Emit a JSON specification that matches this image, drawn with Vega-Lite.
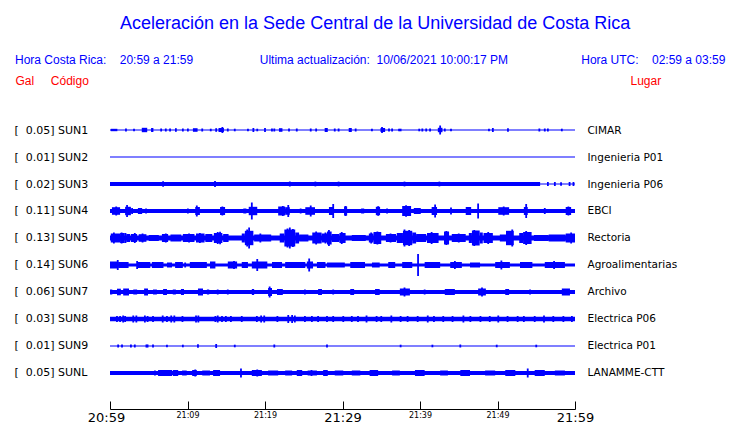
{
"$schema":"https://vega.github.io/schema/vega-lite/v6.json",
"width":465,"height":293,
"autosize":{"type":"none"},
"padding":{"left":110,"top":116,"right":165,"bottom":14},
"background":"#ffffff",
"title":{
"text":"\u200b\u00a0\u00a0\u00a0\u00a0\u00a0\u00a0\u00a0\u00a0\u00a0\u00a0\u00a0\u00a0\u00a0\u00a0\u00a0\u00a0\u00a0\u00a0\u00a0\u00a0\u00a0Aceleración en la Sede Central de la Universidad de Costa Rica",
"subtitle":"Hora Costa Rica:\u00a0\u00a0\u00a0\u00a020:59 a 21:59\u00a0\u00a0\u00a0\u00a0\u00a0\u00a0\u00a0\u00a0\u00a0\u00a0\u00a0\u00a0\u00a0\u00a0\u00a0\u00a0\u00a0\u00a0\u00a0\u00a0Ultima actualización:\u00a0\u00a010/06/2021 10:00:17 PM\u00a0\u00a0\u00a0\u00a0\u00a0\u00a0\u00a0\u00a0\u00a0\u00a0\u00a0\u00a0\u00a0\u00a0\u00a0\u00a0\u00a0\u00a0\u00a0\u00a0\u00a0\u00a0Hora UTC:\u00a0\u00a0\u00a0\u00a002:59 a 03:59",
"anchor":"start","frame":"group","dx":-95,"offset":8,
"font":"Liberation Sans","fontSize":18,"fontWeight":"normal","color":"#0000FF",
"subtitleFont":"Liberation Sans","subtitleFontSize":12,"subtitleColor":"#0000FF","subtitlePadding":22
},
"datasets":{
"est":[
{"s":"SUN1","gal":0.05,"lugar":"CIMAR"},
{"s":"SUN2","gal":0.01,"lugar":"Ingenieria P01"},
{"s":"SUN3","gal":0.02,"lugar":"Ingenieria P06"},
{"s":"SUN4","gal":0.11,"lugar":"EBCI"},
{"s":"SUN5","gal":0.13,"lugar":"Rectoria"},
{"s":"SUN6","gal":0.14,"lugar":"Agroalimentarias"},
{"s":"SUN7","gal":0.06,"lugar":"Archivo"},
{"s":"SUN8","gal":0.03,"lugar":"Electrica P06"},
{"s":"SUN9","gal":0.01,"lugar":"Electrica P01"},
{"s":"SUNL","gal":0.05,"lugar":"LANAMME-CTT"}
],
"blk":[
{"s":"SUN3","t0":0,"t1":55.5,"a":0.2},
{"s":"SUN4","t0":0,"t1":60,"a":0.2},
{"s":"SUN5","t0":0,"t1":60,"a":0.25},
{"s":"SUN6","t0":0,"t1":60,"a":0.15},
{"s":"SUN7","t0":0,"t1":60,"a":0.2},
{"s":"SUN8","t0":0,"t1":60,"a":0.22},
{"s":"SUNL","t0":0,"t1":60,"a":0.2},
{"s":"SUN1","t0":0.1,"t1":0.95,"a":0.12},{"s":"SUN1","t0":4.1,"t1":4.8,"a":0.22},{"s":"SUN1","t0":5.3,"t1":5.6,"a":0.2},{"s":"SUN1","t0":10.7,"t1":11.3,"a":0.18},{"s":"SUN1","t0":14.0,"t1":14.7,"a":0.2},{"s":"SUN1","t0":21.8,"t1":22.25,"a":0.18},{"s":"SUN1","t0":27.7,"t1":28.1,"a":0.2},{"s":"SUN1","t0":30.8,"t1":31.2,"a":0.2},{"s":"SUN1","t0":34.9,"t1":35.5,"a":0.2},{"s":"SUN1","t0":42.3,"t1":42.9,"a":0.22},
{"s":"SUN3","t0":44.3,"t1":44.8,"a":0.16},{"s":"SUN3","t0":47.8,"t1":48.2,"a":0.12},{"s":"SUN3","t0":51.1,"t1":51.4,"a":0.12},{"s":"SUN3","t0":53.8,"t1":54.2,"a":0.12},
{"s":"SUN4","t0":0.25,"t1":1.3,"a":0.38},{"s":"SUN4","t0":1.95,"t1":2.7,"a":0.42},{"s":"SUN4","t0":3.6,"t1":4.15,"a":0.3},{"s":"SUN4","t0":11.0,"t1":11.6,"a":0.4},{"s":"SUN4","t0":14.2,"t1":14.85,"a":0.4},{"s":"SUN4","t0":17.2,"t1":17.6,"a":0.25},{"s":"SUN4","t0":17.9,"t1":19.0,"a":0.42},{"s":"SUN4","t0":21.7,"t1":22.6,"a":0.45},{"s":"SUN4","t0":22.6,"t1":23.2,"a":0.38},{"s":"SUN4","t0":25.2,"t1":26.45,"a":0.38},{"s":"SUN4","t0":28.25,"t1":28.9,"a":0.4},{"s":"SUN4","t0":30.2,"t1":30.6,"a":0.45},{"s":"SUN4","t0":32.4,"t1":32.8,"a":0.25},{"s":"SUN4","t0":34.3,"t1":34.85,"a":0.42},{"s":"SUN4","t0":37.7,"t1":38.85,"a":0.5},{"s":"SUN4","t0":39.2,"t1":40.1,"a":0.3},{"s":"SUN4","t0":41.5,"t1":42.2,"a":0.4},{"s":"SUN4","t0":45.9,"t1":46.6,"a":0.4},{"s":"SUN4","t0":50.1,"t1":51.5,"a":0.38},{"s":"SUN4","t0":53.4,"t1":53.9,"a":0.4},{"s":"SUN4","t0":58.8,"t1":59.5,"a":0.4},
{"s":"SUN5","t0":0.1,"t1":1.3,"a":0.45},{"s":"SUN5","t0":1.3,"t1":1.9,"a":0.5},{"s":"SUN5","t0":2.1,"t1":2.6,"a":0.4},{"s":"SUN5","t0":2.7,"t1":3.5,"a":0.4},{"s":"SUN5","t0":3.7,"t1":4.7,"a":0.38},{"s":"SUN5","t0":5.0,"t1":6.3,"a":0.3},{"s":"SUN5","t0":6.7,"t1":7.5,"a":0.4},{"s":"SUN5","t0":7.8,"t1":9.2,"a":0.35},{"s":"SUN5","t0":9.4,"t1":10.9,"a":0.4},{"s":"SUN5","t0":11.1,"t1":12.2,"a":0.45},{"s":"SUN5","t0":12.3,"t1":13.2,"a":0.4},{"s":"SUN5","t0":13.4,"t1":14.5,"a":0.5},{"s":"SUN5","t0":14.6,"t1":15.3,"a":0.4},{"s":"SUN5","t0":17.0,"t1":17.4,"a":0.45},{"s":"SUN5","t0":17.4,"t1":18.5,"a":0.72},{"s":"SUN5","t0":18.6,"t1":20.8,"a":0.35},{"s":"SUN5","t0":21.9,"t1":22.5,"a":0.45},{"s":"SUN5","t0":22.5,"t1":23.9,"a":0.85},{"s":"SUN5","t0":23.9,"t1":24.4,"a":0.55},{"s":"SUN5","t0":24.4,"t1":25.6,"a":0.35},{"s":"SUN5","t0":26.1,"t1":27.3,"a":0.55},{"s":"SUN5","t0":27.3,"t1":28.0,"a":0.45},{"s":"SUN5","t0":28.0,"t1":28.6,"a":0.65},{"s":"SUN5","t0":28.6,"t1":29.6,"a":0.4},{"s":"SUN5","t0":29.6,"t1":30.4,"a":0.5},{"s":"SUN5","t0":31.2,"t1":33.0,"a":0.3},{"s":"SUN5","t0":33.4,"t1":34.0,"a":0.45},{"s":"SUN5","t0":34.0,"t1":35.0,"a":0.6},{"s":"SUN5","t0":35.6,"t1":36.9,"a":0.4},{"s":"SUN5","t0":37.0,"t1":37.8,"a":0.5},{"s":"SUN5","t0":37.8,"t1":39.0,"a":0.72},{"s":"SUN5","t0":39.0,"t1":39.5,"a":0.55},{"s":"SUN5","t0":39.5,"t1":40.8,"a":0.4},{"s":"SUN5","t0":40.9,"t1":42.4,"a":0.5},{"s":"SUN5","t0":43.1,"t1":43.75,"a":0.65},{"s":"SUN5","t0":44.1,"t1":45.9,"a":0.4},{"s":"SUN5","t0":46.3,"t1":46.7,"a":0.5},{"s":"SUN5","t0":46.7,"t1":47.7,"a":0.75},{"s":"SUN5","t0":47.7,"t1":48.1,"a":0.55},{"s":"SUN5","t0":48.2,"t1":49.4,"a":0.5},{"s":"SUN5","t0":50.3,"t1":51.1,"a":0.35},{"s":"SUN5","t0":51.1,"t1":52.1,"a":0.72},{"s":"SUN5","t0":52.8,"t1":53.3,"a":0.5},{"s":"SUN5","t0":53.3,"t1":54.4,"a":0.6},{"s":"SUN5","t0":54.7,"t1":56.6,"a":0.3},{"s":"SUN5","t0":56.6,"t1":58.8,"a":0.35},{"s":"SUN5","t0":58.8,"t1":60,"a":0.45},
{"s":"SUN6","t0":0,"t1":1.05,"a":0.35},{"s":"SUN6","t0":1.05,"t1":2.4,"a":0.3},{"s":"SUN6","t0":3.6,"t1":5.2,"a":0.3},{"s":"SUN6","t0":5.4,"t1":6.9,"a":0.3},{"s":"SUN6","t0":7.35,"t1":8.0,"a":0.25},{"s":"SUN6","t0":8.4,"t1":9.4,"a":0.3},{"s":"SUN6","t0":10.3,"t1":12.5,"a":0.3},{"s":"SUN6","t0":12.9,"t1":13.6,"a":0.35},{"s":"SUN6","t0":15.2,"t1":16.4,"a":0.35},{"s":"SUN6","t0":17.0,"t1":17.8,"a":0.3},{"s":"SUN6","t0":18.3,"t1":20.3,"a":0.35},{"s":"SUN6","t0":20.9,"t1":22.2,"a":0.3},{"s":"SUN6","t0":22.6,"t1":25.2,"a":0.3},{"s":"SUN6","t0":25.4,"t1":26.2,"a":0.35},{"s":"SUN6","t0":26.7,"t1":27.8,"a":0.3},{"s":"SUN6","t0":28.0,"t1":30.3,"a":0.25},{"s":"SUN6","t0":31.0,"t1":32.9,"a":0.3},{"s":"SUN6","t0":33.8,"t1":34.8,"a":0.25},{"s":"SUN6","t0":35.9,"t1":36.8,"a":0.3},{"s":"SUN6","t0":37.7,"t1":39.0,"a":0.3},{"s":"SUN6","t0":40.6,"t1":42.6,"a":0.3},{"s":"SUN6","t0":43.9,"t1":45.4,"a":0.3},{"s":"SUN6","t0":46.45,"t1":47.75,"a":0.25},{"s":"SUN6","t0":49.7,"t1":51.6,"a":0.3},{"s":"SUN6","t0":52.9,"t1":54.5,"a":0.3},{"s":"SUN6","t0":56.1,"t1":58.7,"a":0.3},
{"s":"SUN7","t0":0,"t1":0.3,"a":0.25},{"s":"SUN7","t0":0.9,"t1":1.4,"a":0.33},{"s":"SUN7","t0":1.7,"t1":2.45,"a":0.35},{"s":"SUN7","t0":3.0,"t1":3.5,"a":0.25},{"s":"SUN7","t0":4.4,"t1":4.9,"a":0.35},{"s":"SUN7","t0":5.55,"t1":6.05,"a":0.25},{"s":"SUN7","t0":6.85,"t1":7.35,"a":0.3},{"s":"SUN7","t0":8.1,"t1":8.5,"a":0.25},{"s":"SUN7","t0":9.15,"t1":9.55,"a":0.3},{"s":"SUN7","t0":11.35,"t1":12.0,"a":0.35},{"s":"SUN7","t0":12.5,"t1":12.8,"a":0.25},{"s":"SUN7","t0":18.3,"t1":18.6,"a":0.3},{"s":"SUN7","t0":20.4,"t1":20.9,"a":0.4},{"s":"SUN7","t0":21.55,"t1":22.3,"a":0.3},{"s":"SUN7","t0":26.85,"t1":27.35,"a":0.3},{"s":"SUN7","t0":31.0,"t1":31.5,"a":0.3},{"s":"SUN7","t0":34.2,"t1":34.8,"a":0.3},{"s":"SUN7","t0":37.4,"t1":38.7,"a":0.35},{"s":"SUN7","t0":43.2,"t1":44.5,"a":0.3},{"s":"SUN7","t0":47.5,"t1":48.5,"a":0.35},{"s":"SUN7","t0":51.0,"t1":51.5,"a":0.3},{"s":"SUN7","t0":58.3,"t1":59.35,"a":0.35},
{"s":"SUNL","t0":6.2,"t1":8.0,"a":0.3},{"s":"SUNL","t0":8.1,"t1":8.8,"a":0.3},{"s":"SUNL","t0":9.3,"t1":9.9,"a":0.25},{"s":"SUNL","t0":10.6,"t1":11.2,"a":0.3},{"s":"SUNL","t0":11.9,"t1":12.9,"a":0.25},{"s":"SUNL","t0":13.3,"t1":14.2,"a":0.3},{"s":"SUNL","t0":18.3,"t1":19.6,"a":0.3},{"s":"SUNL","t0":20.4,"t1":21.7,"a":0.25},{"s":"SUNL","t0":22.6,"t1":23.5,"a":0.25},{"s":"SUNL","t0":24.1,"t1":24.8,"a":0.3},{"s":"SUNL","t0":25.5,"t1":26.7,"a":0.25},{"s":"SUNL","t0":27.5,"t1":28.1,"a":0.3},{"s":"SUNL","t0":29.0,"t1":30.1,"a":0.25},{"s":"SUNL","t0":31.2,"t1":32.3,"a":0.25},{"s":"SUNL","t0":33.5,"t1":34.6,"a":0.3},{"s":"SUNL","t0":36.4,"t1":37.4,"a":0.25},{"s":"SUNL","t0":39.35,"t1":40.6,"a":0.3},{"s":"SUNL","t0":42.6,"t1":43.6,"a":0.25},{"s":"SUNL","t0":45.2,"t1":46.45,"a":0.3},{"s":"SUNL","t0":48.4,"t1":49.7,"a":0.25},{"s":"SUNL","t0":51.0,"t1":52.3,"a":0.3},{"s":"SUNL","t0":54.8,"t1":56.1,"a":0.3},{"s":"SUNL","t0":57.4,"t1":58.7,"a":0.25}
],
"spk":[
{"s":"SUN1","t":2.06,"a":0.15},{"s":"SUN1","t":3.1,"a":0.13},{"s":"SUN1","t":6.6,"a":0.15},{"s":"SUN1","t":7.2,"a":0.15},{"s":"SUN1","t":7.75,"a":0.15},{"s":"SUN1","t":8.5,"a":0.18},{"s":"SUN1","t":9.4,"a":0.15},{"s":"SUN1","t":10.05,"a":0.15},{"s":"SUN1","t":11.9,"a":0.15},{"s":"SUN1","t":13.0,"a":0.13},{"s":"SUN1","t":13.7,"a":0.18},{"s":"SUN1","t":14.5,"a":0.3},{"s":"SUN1","t":15.2,"a":0.15},{"s":"SUN1","t":16.1,"a":0.13},{"s":"SUN1","t":17.8,"a":0.13},{"s":"SUN1","t":18.5,"a":0.2},{"s":"SUN1","t":19.0,"a":0.13},{"s":"SUN1","t":20.0,"a":0.2},{"s":"SUN1","t":20.9,"a":0.15},{"s":"SUN1","t":21.2,"a":0.15},{"s":"SUN1","t":23.1,"a":0.15},{"s":"SUN1","t":24.1,"a":0.15},{"s":"SUN1","t":25.9,"a":0.15},{"s":"SUN1","t":26.6,"a":0.15},{"s":"SUN1","t":29.0,"a":0.15},{"s":"SUN1","t":29.5,"a":0.15},{"s":"SUN1","t":31.7,"a":0.15},{"s":"SUN1","t":33.8,"a":0.13},{"s":"SUN1","t":35.1,"a":0.3},{"s":"SUN1","t":36.0,"a":0.15},{"s":"SUN1","t":36.4,"a":0.15},{"s":"SUN1","t":37.3,"a":0.13},{"s":"SUN1","t":37.5,"a":0.13},{"s":"SUN1","t":39.9,"a":0.13},{"s":"SUN1","t":40.3,"a":0.15},{"s":"SUN1","t":40.8,"a":0.15},{"s":"SUN1","t":41.3,"a":0.15},{"s":"SUN1","t":42.6,"a":0.45},{"s":"SUN1","t":43.2,"a":0.15},{"s":"SUN1","t":44.0,"a":0.13},{"s":"SUN1","t":48.9,"a":0.13},{"s":"SUN1","t":49.4,"a":0.2},{"s":"SUN1","t":51.35,"a":0.18},{"s":"SUN1","t":55.4,"a":0.15},{"s":"SUN1","t":56.1,"a":0.15},{"s":"SUN1","t":56.5,"a":0.15},{"s":"SUN1","t":58.3,"a":0.13},
{"s":"SUN3","t":6.85,"a":0.28},{"s":"SUN3","t":13.55,"a":0.3},{"s":"SUN3","t":23.2,"a":0.25},{"s":"SUN3","t":26.5,"a":0.24},{"s":"SUN3","t":29.5,"a":0.24},{"s":"SUN3","t":38.0,"a":0.24},{"s":"SUN3","t":42.5,"a":0.24},{"s":"SUN3","t":56.5,"a":0.2},{"s":"SUN3","t":57.4,"a":0.2},{"s":"SUN3","t":58.2,"a":0.18},{"s":"SUN3","t":59.3,"a":0.2},{"s":"SUN3","t":59.8,"a":0.2},
{"s":"SUN4","t":0.8,"a":0.45},{"s":"SUN4","t":2.2,"a":0.6},{"s":"SUN4","t":2.85,"a":0.3},{"s":"SUN4","t":4.65,"a":0.25},{"s":"SUN4","t":10.05,"a":0.25},{"s":"SUN4","t":11.2,"a":0.55},{"s":"SUN4","t":14.5,"a":0.45},{"s":"SUN4","t":18.3,"a":0.85},{"s":"SUN4","t":22.3,"a":0.5},{"s":"SUN4","t":23.0,"a":0.6},{"s":"SUN4","t":24.6,"a":0.25},{"s":"SUN4","t":25.9,"a":0.55},{"s":"SUN4","t":28.8,"a":0.7},{"s":"SUN4","t":30.4,"a":0.5},{"s":"SUN4","t":34.6,"a":0.48},{"s":"SUN4","t":35.75,"a":0.25},{"s":"SUN4","t":38.2,"a":0.58},{"s":"SUN4","t":41.95,"a":0.65},{"s":"SUN4","t":44.0,"a":0.35},{"s":"SUN4","t":47.5,"a":0.75},{"s":"SUN4","t":50.8,"a":0.45},{"s":"SUN4","t":53.7,"a":0.7},{"s":"SUN4","t":56.1,"a":0.3},{"s":"SUN4","t":59.15,"a":0.45},
{"s":"SUN5","t":0.5,"a":0.55},{"s":"SUN5","t":1.5,"a":0.55},{"s":"SUN5","t":2.0,"a":0.5},{"s":"SUN5","t":3.2,"a":0.5},{"s":"SUN5","t":4.2,"a":0.45},{"s":"SUN5","t":7.2,"a":0.45},{"s":"SUN5","t":10.2,"a":0.45},{"s":"SUN5","t":11.6,"a":0.5},{"s":"SUN5","t":13.9,"a":0.6},{"s":"SUN5","t":14.2,"a":0.63},{"s":"SUN5","t":17.7,"a":0.85},{"s":"SUN5","t":17.95,"a":1.05},{"s":"SUN5","t":19.4,"a":0.45},{"s":"SUN5","t":22.9,"a":0.95},{"s":"SUN5","t":23.2,"a":1.05},{"s":"SUN5","t":23.6,"a":0.9},{"s":"SUN5","t":26.6,"a":0.65},{"s":"SUN5","t":27.8,"a":0.55},{"s":"SUN5","t":28.25,"a":0.8},{"s":"SUN5","t":29.9,"a":0.6},{"s":"SUN5","t":33.7,"a":0.55},{"s":"SUN5","t":34.5,"a":0.65},{"s":"SUN5","t":36.2,"a":0.45},{"s":"SUN5","t":38.0,"a":0.85},{"s":"SUN5","t":38.6,"a":0.8},{"s":"SUN5","t":41.5,"a":0.6},{"s":"SUN5","t":43.4,"a":0.7},{"s":"SUN5","t":45.0,"a":0.45},{"s":"SUN5","t":47.0,"a":0.8},{"s":"SUN5","t":48.8,"a":0.6},{"s":"SUN5","t":51.9,"a":0.85},{"s":"SUN5","t":53.7,"a":0.7},{"s":"SUN5","t":59.5,"a":0.55},
{"s":"SUN6","t":1.0,"a":0.5},{"s":"SUN6","t":3.5,"a":0.4},{"s":"SUN6","t":9.7,"a":0.25},{"s":"SUN6","t":16.0,"a":0.4},{"s":"SUN6","t":19.0,"a":0.6},{"s":"SUN6","t":25.7,"a":0.65},{"s":"SUN6","t":39.75,"a":1.1},{"s":"SUN6","t":44.5,"a":0.4},{"s":"SUN6","t":50.5,"a":0.45},{"s":"SUN6","t":57.3,"a":0.4},
{"s":"SUN7","t":13.9,"a":0.25},{"s":"SUN7","t":15.2,"a":0.25},{"s":"SUN7","t":20.6,"a":0.55},{"s":"SUN7","t":25.15,"a":0.25},{"s":"SUN7","t":28.8,"a":0.25},{"s":"SUN7","t":38.0,"a":0.45},{"s":"SUN7","t":40.6,"a":0.25},{"s":"SUN7","t":48.0,"a":0.45},{"s":"SUN7","t":54.2,"a":0.25},
{"s":"SUN8","t":0.9,"a":0.3},{"s":"SUN8","t":1.3,"a":0.3},{"s":"SUN8","t":1.7,"a":0.35},{"s":"SUN8","t":1.95,"a":0.3},{"s":"SUN8","t":3.0,"a":0.35},{"s":"SUN8","t":3.4,"a":0.35},{"s":"SUN8","t":4.5,"a":0.35},{"s":"SUN8","t":4.85,"a":0.3},{"s":"SUN8","t":5.55,"a":0.3},{"s":"SUN8","t":6.8,"a":0.35},{"s":"SUN8","t":7.35,"a":0.3},{"s":"SUN8","t":7.9,"a":0.35},{"s":"SUN8","t":8.3,"a":0.35},{"s":"SUN8","t":9.35,"a":0.3},{"s":"SUN8","t":11.1,"a":0.35},{"s":"SUN8","t":11.4,"a":0.35},{"s":"SUN8","t":13.6,"a":0.3},{"s":"SUN8","t":13.9,"a":0.35},{"s":"SUN8","t":14.45,"a":0.3},{"s":"SUN8","t":14.95,"a":0.3},{"s":"SUN8","t":15.6,"a":0.3},{"s":"SUN8","t":17.0,"a":0.3},{"s":"SUN8","t":18.95,"a":0.3},{"s":"SUN8","t":19.5,"a":0.35},{"s":"SUN8","t":19.9,"a":0.35},{"s":"SUN8","t":21.6,"a":0.3},{"s":"SUN8","t":23.0,"a":0.4},{"s":"SUN8","t":23.5,"a":0.4},{"s":"SUN8","t":23.85,"a":0.35},{"s":"SUN8","t":25.15,"a":0.3},{"s":"SUN8","t":26.05,"a":0.3},{"s":"SUN8","t":26.85,"a":0.3},{"s":"SUN8","t":28.0,"a":0.3},{"s":"SUN8","t":28.8,"a":0.3},{"s":"SUN8","t":30.1,"a":0.3},{"s":"SUN8","t":31.2,"a":0.3},{"s":"SUN8","t":32.0,"a":0.3},{"s":"SUN8","t":33.1,"a":0.35},{"s":"SUN8","t":34.4,"a":0.3},{"s":"SUN8","t":35.0,"a":0.3},{"s":"SUN8","t":36.3,"a":0.35},{"s":"SUN8","t":37.5,"a":0.3},{"s":"SUN8","t":38.4,"a":0.3},{"s":"SUN8","t":39.7,"a":0.3},{"s":"SUN8","t":41.0,"a":0.35},{"s":"SUN8","t":41.8,"a":0.3},{"s":"SUN8","t":43.0,"a":0.3},{"s":"SUN8","t":44.2,"a":0.3},{"s":"SUN8","t":45.6,"a":0.35},{"s":"SUN8","t":46.5,"a":0.3},{"s":"SUN8","t":47.8,"a":0.3},{"s":"SUN8","t":49.0,"a":0.3},{"s":"SUN8","t":50.1,"a":0.35},{"s":"SUN8","t":51.3,"a":0.3},{"s":"SUN8","t":52.6,"a":0.3},{"s":"SUN8","t":53.4,"a":0.3},{"s":"SUN8","t":54.8,"a":0.3},{"s":"SUN8","t":56.0,"a":0.35},{"s":"SUN8","t":57.2,"a":0.3},{"s":"SUN8","t":58.5,"a":0.3},{"s":"SUN8","t":59.6,"a":0.3},
{"s":"SUN9","t":1.05,"a":0.15},{"s":"SUN9","t":1.55,"a":0.15},{"s":"SUN9","t":2.7,"a":0.15},{"s":"SUN9","t":3.2,"a":0.15},{"s":"SUN9","t":4.7,"a":0.15},{"s":"SUN9","t":4.85,"a":0.15},{"s":"SUN9","t":5.55,"a":0.15},{"s":"SUN9","t":7.35,"a":0.13},{"s":"SUN9","t":9.4,"a":0.13},{"s":"SUN9","t":11.35,"a":0.18},{"s":"SUN9","t":13.7,"a":0.2},{"s":"SUN9","t":16.1,"a":0.13},{"s":"SUN9","t":21.2,"a":0.15},{"s":"SUN9","t":28.0,"a":0.15},{"s":"SUN9","t":37.5,"a":0.13},{"s":"SUN9","t":41.6,"a":0.13},{"s":"SUN9","t":45.2,"a":0.15},{"s":"SUN9","t":49.9,"a":0.13},{"s":"SUN9","t":55.0,"a":0.13},
{"s":"SUNL","t":5.8,"a":0.25},{"s":"SUNL","t":11.0,"a":0.35},{"s":"SUNL","t":16.9,"a":0.45},{"s":"SUNL","t":19.0,"a":0.35},{"s":"SUNL","t":26.0,"a":0.3},{"s":"SUNL","t":53.9,"a":0.45}
]
},
"layer":[
{
"data":{"name":"est"},
"mark":{"type":"rule","color":"#0000FF","strokeWidth":1.2},
"encoding":{
"x":{"datum":0,"type":"quantitative","scale":{"domain":[0,60],"nice":false,"zero":false},
"axis":{"title":null,"values":[0,5,10,15,20,25,30,35,40,45,50,55,60],"grid":false,"domainColor":"#000000","domainWidth":1,"tickColor":"#000000","tickWidth":1,"tickSize":-8,"labelPadding":10,"labelBaseline":"top","labelFont":"DejaVu Sans","labelColor":"#000000","labelFlush":false,"labelOverlap":false,
"labelFontSize":{"condition":{"test":"datum.value % 30 === 0","value":13},"value":8},
"labelOffset":{"condition":{"test":"datum.value === 0","value":-4},"value":0},
"labelExpr":"datum.value % 10 === 0 ? (datum.value === 0 ? '20:59' : '21:' + (datum.value < 11 ? '0' : '') + (datum.value - 1)) : ''"}},
"x2":{"datum":60},
"y":{"field":"lugar","type":"nominal",
"scale":{"type":"point","domain":["CIMAR","Ingenieria P01","Ingenieria P06","EBCI","Rectoria","Agroalimentarias","Archivo","Electrica P06","Electrica P01","LANAMME-CTT"],"padding":0.926,"align":0.28},
"axis":{"orient":"right","title":"Lugar","titleColor":"#FF0000","titleFont":"Liberation Sans","titleFontSize":12,"titleFontWeight":"normal","titleAngle":0,"titleAlign":"left","titleBaseline":"alphabetic","titleX":55,"titleY":-32,"domain":false,"ticks":false,"grid":false,"labelAlign":"left","labelBaseline":"middle","labelPadding":12,"labelFont":"DejaVu Sans","labelFontSize":10.5,"labelColor":"#000000","labelOverlap":false}}
}
},
{
"layer":[
{
"data":{"name":"blk"},
"mark":{"type":"bar","color":"#0000FF","opacity":1},
"encoding":{
"x":{"field":"t0","type":"quantitative","title":null},
"x2":{"field":"t1"},
"y":{"field":"s","type":"nominal",
"scale":{"type":"point","domain":["SUN1","SUN2","SUN3","SUN4","SUN5","SUN6","SUN7","SUN8","SUN9","SUNL"],"padding":0.926,"align":0.28},
"axis":{"orient":"left","title":"Gal\u00a0\u00a0\u00a0\u00a0\u00a0Código","titleColor":"#FF0000","titleFont":"Liberation Sans","titleFontSize":12,"titleFontWeight":"normal","titleAngle":0,"titleAlign":"left","titleBaseline":"alphabetic","titleX":-95,"titleY":-32,"domain":false,"ticks":false,"grid":false,"labelAlign":"left","labelBaseline":"middle","labelPadding":96,"labelFont":"DejaVu Sans","labelFontSize":11,"labelColor":"#000000","labelOverlap":false,
"labelExpr":"'[\u00a0\u00a0' + ['0.05','0.01','0.02','0.11','0.13','0.14','0.06','0.03','0.01','0.05'][indexof(['SUN1','SUN2','SUN3','SUN4','SUN5','SUN6','SUN7','SUN8','SUN9','SUNL'], datum.value)] + ']\u00a0' + datum.value"}},
"size":{"field":"a","type":"quantitative","scale":{"domain":[0,1],"range":[0,20],"zero":true},"legend":null}
}
},
{
"data":{"name":"spk"},
"mark":{"type":"tick","color":"#0000FF","thickness":1.8,"opacity":1},
"encoding":{
"x":{"field":"t","type":"quantitative","title":null},
"y":{"field":"s","type":"nominal"},
"size":{"field":"a","type":"quantitative","legend":null}
}
}
]
}
],
"resolve":{"scale":{"y":"independent"}},
"config":{"view":{"stroke":null}}
}
